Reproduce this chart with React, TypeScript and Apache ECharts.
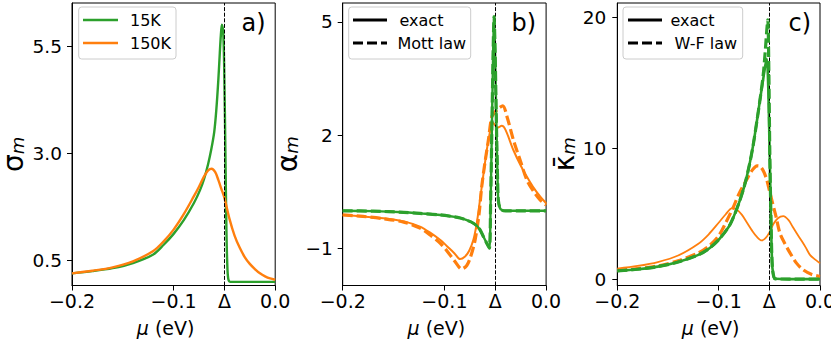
import React, { useEffect, useRef } from 'react';
import * as echarts from 'echarts';

const FONT = 'DejaVu Sans';
const GREEN = '#2ca02c';
const ORANGE = '#ff7f0e';

const DELTA = -0.05;
const xTickValues = [-0.2, -0.1, DELTA, 0.0];
const xTickLabels = ['−0.2', '−0.1', 'Δ', '0.0'];

const yTicksA = [0.5, 3.0, 5.5];
const yLabelsA = ['0.5', '3.0', '5.5'];
const yTicksB = [-1, 2, 5];
const yLabelsB = ['−1', '2', '5'];
const yTicksC = [0, 10, 20];
const yLabelsC = ['0', '10', '20'];

const legendA = ['15K', '150K'];
const legendB = ['exact', 'Mott law'];
const legendC = ['exact', 'W-F law'];
const panelLabels = ['a)', 'b)', 'c)'];

// Panel a: sigma_m
const aMu15 = [-0.2, -0.18, -0.16, -0.14, -0.12, -0.11, -0.1, -0.09, -0.08, -0.074, -0.07, -0.066, -0.063, -0.06, -0.058, -0.056, -0.0545, -0.0535, -0.0525, -0.0512, -0.0502, -0.049, -0.048, -0.047, -0.046, -0.044, -0.03, -0.015, 0];
const aSig15 = [0.2, 0.25, 0.32, 0.44, 0.64, 0.86, 1.12, 1.44, 1.84, 2.14, 2.4, 2.75, 3.08, 3.5, 4.0, 4.7, 5.35, 5.75, 6.0, 5.85, 5.0, 3.0, 1.2, 0.3, 0.05, 0.0, 0.0, 0.0, 0.0];
const aMu150 = [-0.2, -0.18, -0.16, -0.14, -0.12, -0.11, -0.1, -0.09, -0.08, -0.075, -0.07, -0.066, -0.0626, -0.059, -0.056, -0.053, -0.05, -0.045, -0.04, -0.035, -0.03, -0.025, -0.02, -0.015, -0.01, -0.005, 0];
const aSig150 = [0.2, 0.26, 0.34, 0.48, 0.72, 0.94, 1.22, 1.58, 2.0, 2.22, 2.46, 2.6, 2.64, 2.56, 2.38, 2.17, 1.96, 1.47, 1.08, 0.8, 0.58, 0.42, 0.3, 0.2, 0.13, 0.08, 0.05];

// Panel b: alpha_m
const bMu15 = [-0.2, -0.17, -0.14, -0.124, -0.104, -0.09, -0.0846, -0.078, -0.0715, -0.066, -0.0617, -0.058, -0.0558, -0.0545, -0.0534, -0.052, -0.0512, -0.0502, -0.049, -0.0475, -0.047, -0.0455, -0.0436, -0.04, -0.02, 0];
const bAlpha15 = [0, -0.01, -0.04, -0.07, -0.11, -0.16, -0.19, -0.25, -0.33, -0.46, -0.68, -0.88, -0.99, 0.3, 2.05, 4.3, 5.14, 4.3, 2.5, 0.6, 0.29, 0.08, 0.02, 0, 0, 0];
const bAlphaMott15 = [0, -0.01, -0.04, -0.07, -0.11, -0.16, -0.19, -0.25, -0.33, -0.46, -0.68, -0.88, -0.99, 0.3, 2.05, 4.3, 5.14, 4.3, 2.5, 0.6, 0.29, 0.08, 0.02, 0, 0, 0];
const bMu150 = [-0.2, -0.18, -0.16, -0.14, -0.124, -0.114, -0.1043, -0.095, -0.09, -0.0846, -0.08, -0.0755, -0.0715, -0.068, -0.065, -0.0617, -0.0583, -0.0555, -0.0534, -0.051, -0.048, -0.0436, -0.04, -0.0322, -0.025, -0.019, -0.012, -0.0059, 0];
const bAlpha150 = [-0.11, -0.15, -0.2, -0.28, -0.42, -0.58, -0.77, -1.0, -1.13, -1.28, -1.22, -1.05, -0.77, -0.3, 0.29, 0.95, 1.61, 2.05, 2.35, 2.3, 2.2, 2.25, 2.15, 1.61, 1.2, 0.91, 0.6, 0.38, 0.2];
const bMuMott150 = [-0.2, -0.18, -0.16, -0.14, -0.124, -0.114, -0.104, -0.095, -0.09, -0.083, -0.078, -0.074, -0.0698, -0.066, -0.0633, -0.06, -0.0567, -0.0534, -0.05, -0.0465, -0.0426, -0.038, -0.0322, -0.025, -0.019, -0.012, -0.0059, 0];
const bAlphaMott150 = [-0.11, -0.15, -0.21, -0.3, -0.46, -0.64, -0.86, -1.15, -1.33, -1.54, -1.45, -1.2, -0.77, -0.1, 0.64, 1.3, 1.88, 2.49, 2.62, 2.72, 2.78, 2.45, 1.88, 1.3, 0.82, 0.5, 0.29, 0.15];

// Panel c: kappa_m
const cMu15 = [-0.2, -0.18, -0.16, -0.14, -0.12, -0.11, -0.1, -0.09, -0.085, -0.08, -0.075, -0.07, -0.066, -0.062, -0.059, -0.056, -0.054, -0.0525, -0.051, -0.0495, -0.048, -0.047, -0.0455, -0.044, -0.03, 0];
const cKappa15 = [0.62, 0.75, 0.95, 1.3, 1.85, 2.3, 3.0, 4.0, 4.8, 5.8, 7.0, 8.6, 10.2, 12.2, 13.8, 15.3, 16.3, 16.8, 14.5, 9.0, 3.2, 0.9, 0.15, 0.02, 0, 0];
const cMuWF15 = [-0.2, -0.18, -0.16, -0.14, -0.12, -0.11, -0.1, -0.09, -0.085, -0.08, -0.075, -0.07, -0.066, -0.062, -0.059, -0.056, -0.054, -0.0525, -0.0515, -0.0505, -0.0495, -0.048, -0.047, -0.0455, -0.044, -0.03, 0];
const cKappaWF15 = [0.62, 0.75, 0.95, 1.3, 1.85, 2.3, 3.0, 4.0, 4.8, 5.8, 7.0, 8.6, 10.2, 12.2, 13.8, 15.6, 17.4, 19.0, 19.8, 16.0, 9.5, 3.2, 0.9, 0.15, 0.02, 0, 0];
const cMu150 = [-0.2, -0.18, -0.16, -0.14, -0.12, -0.11, -0.1, -0.093, -0.087, -0.082, -0.077, -0.072, -0.067, -0.062, -0.0575, -0.054, -0.05, -0.046, -0.0415, -0.0362, -0.031, -0.027, -0.023, -0.018, -0.014, -0.0099, -0.005, 0];
const cKappa150 = [0.8, 1.0, 1.3, 1.8, 2.7, 3.4, 4.3, 4.95, 5.4, 5.3, 4.9, 4.3, 3.7, 3.2, 2.95, 3.1, 3.55, 4.2, 4.65, 4.8, 4.5, 4.0, 3.5, 2.9, 2.4, 1.85, 1.5, 1.2];
const cMuWF150 = [-0.2, -0.18, -0.16, -0.14, -0.12, -0.11, -0.1, -0.093, -0.0855, -0.08, -0.0723, -0.067, -0.062, -0.059, -0.0555, -0.0526, -0.05, -0.0476, -0.0435, -0.0395, -0.0346, -0.0296, -0.023, -0.0165, -0.008, 0];
const cKappaWF150 = [0.66, 0.8, 1.0, 1.4, 2.0, 2.5, 3.3, 4.3, 5.5, 6.5, 7.6, 8.3, 8.65, 8.6, 8.2, 7.6, 6.8, 6.05, 4.8, 3.5, 2.7, 2.0, 1.2, 0.7, 0.35, 0.2];

const zip = (xs: number[], ys: number[]) => xs.map((x, i) => [x, ys[i]]);
const lookup = (vals: number[], labels: string[]) => (v: number) => {
  const i = vals.findIndex((t) => Math.abs(t - v) < 1e-9);
  return i >= 0 ? labels[i] : '';
};

const GRID_LEFTS = [72, 342.7, 617.3];
const GRID_WIDTHS = [203.2, 203.4, 202.7];
const TOP = 3;
const HEIGHT = 282.5;

export default function App() {
  const ref = useRef<HTMLDivElement>(null);
  useEffect(() => {
    if (!ref.current) return;
    const chart = echarts.init(ref.current, undefined, { renderer: 'svg' });

    const grids = GRID_LEFTS.map((l, i) => ({
      left: l, top: TOP, width: GRID_WIDTHS[i], height: HEIGHT,
      show: true, borderColor: '#000', borderWidth: 1, backgroundColor: 'transparent',
      containLabel: false, outerBoundsMode: 'none',
    }));

    const xAxes = [0, 1, 2].map((i) => ({
      gridIndex: i, type: 'value', min: -0.2, max: 0,
      axisLine: { show: true, onZero: false, lineStyle: { color: '#000', width: 1 } },
      axisTick: { show: true, length: 5, inside: false, customValues: xTickValues, lineStyle: { color: '#000', width: 1 } },
      axisLabel: { customValues: xTickValues, formatter: lookup(xTickValues, xTickLabels), fontSize: 19, color: '#000', fontFamily: FONT, margin: 6 },
      splitLine: { show: false },
      name: '{i|μ} (eV)', nameLocation: 'middle', nameGap: 33,
      nameTextStyle: {
        fontSize: 19, color: '#000', fontFamily: FONT, padding: [0, 16, 0, 0],
        rich: { i: { fontSize: 19, fontStyle: 'italic', fontFamily: FONT, color: '#000' } },
      },
    }));

    const yConf = [
      { min: -0.084, max: 6.505, ticks: yTicksA, labels: yLabelsA, name: '{s|σ}{m|m}', gap: 46, margin: 10 },
      { min: -1.979, max: 5.503, ticks: yTicksB, labels: yLabelsB, name: '{s|α}{m|m}', gap: 34, margin: 10 },
      { min: -0.49, max: 21.08, ticks: yTicksC, labels: yLabelsC, name: '{s|κ̄}{m|m}', gap: 36, margin: 11 },
    ];
    const yAxes = yConf.map((c, i) => ({
      gridIndex: i, type: 'value', min: c.min, max: c.max,
      axisLine: { show: true, onZero: false, lineStyle: { color: '#000', width: 1 } },
      axisTick: { show: true, length: 5, inside: false, customValues: c.ticks, lineStyle: { color: '#000', width: 1 } },
      axisLabel: { customValues: c.ticks, formatter: lookup(c.ticks, c.labels), fontSize: 18.5, color: '#000', fontFamily: FONT, margin: c.margin },
      splitLine: { show: false },
      name: c.name, nameLocation: 'middle', nameGap: c.gap,
      nameTextStyle: {
        color: '#000', fontFamily: FONT, fontSize: 26, padding: [0, 20, 0, 0],
        rich: {
          s: { fontSize: 28, fontFamily: FONT, color: '#000', lineHeight: 26 },
          m: { fontSize: 18, fontStyle: 'italic', fontFamily: FONT, color: '#000', lineHeight: 18, verticalAlign: 'bottom' },
        },
      },
    }));

    const deltaLine = {
      silent: true, symbol: ['none', 'none'], label: { show: false },
      lineStyle: { color: '#000', type: [4, 1.6], width: 1 },
      emphasis: { disabled: true },
      data: [{ xAxis: DELTA }],
    };

    const line = (idx: number, name: string, xs: number[], ys: number[], color: string, width: number, dashed: boolean, z: number, extra: any = {}) => ({
      type: 'line', name, xAxisIndex: idx, yAxisIndex: idx, data: zip(xs, ys),
      showSymbol: false, symbol: 'none', smooth: 0.3,
      lineStyle: { color, width, type: dashed ? [10, 4] : 'solid', cap: 'butt', join: 'round' },
      itemStyle: { color }, z, silent: true, ...extra,
    });

    const series = [
      line(0, '15K', aMu15, aSig15, GREEN, 2.4, false, 2, { markLine: deltaLine }),
      line(0, '150K', aMu150, aSig150, ORANGE, 2.4, false, 3),
      line(1, 'exact 150K', bMu150, bAlpha150, ORANGE, 2, false, 2, { markLine: deltaLine }),
      line(1, 'Mott law 150K', bMuMott150, bAlphaMott150, ORANGE, 3.2, true, 3),
      line(1, 'exact 15K', bMu15, bAlpha15, GREEN, 2.4, false, 4),
      line(1, 'Mott law 15K', bMu15, bAlphaMott15, GREEN, 3.2, true, 5),
      line(2, 'exact 150K', cMu150, cKappa150, ORANGE, 1.8, false, 2, { markLine: deltaLine }),
      line(2, 'W-F law 150K', cMuWF150, cKappaWF150, ORANGE, 3.2, true, 3),
      line(2, 'exact 15K', cMu15, cKappa15, GREEN, 2.6, false, 4),
      line(2, 'W-F law 15K', cMuWF15, cKappaWF15, GREEN, 3.2, true, 5),
    ];

    const legendBox = (x: number, w: number) => ({
      type: 'rect', shape: { x, y: 7, width: w, height: 52, r: 3 },
      style: { fill: 'rgba(255,255,255,0.8)', stroke: '#cccccc', lineWidth: 1 }, z: 10,
    });
    const legendLine = (x1: number, x2: number, y: number, color: string, width: number, dash?: number[]) => ({
      type: 'line', shape: { x1, y1: y, x2, y2: y },
      style: { stroke: color, lineWidth: width, lineDash: dash, lineCap: 'butt' }, z: 11,
    });
    const txt = (text: string, x: number, y: number, size: number) => ({
      type: 'text', x, y, z: 11,
      style: { text, fill: '#000', font: `${size}px "${FONT}"`, textAlign: 'left', textVerticalAlign: 'middle', verticalAlign: 'middle' },
    });

    const graphic = [
      legendBox(78.7, 97.3),
      legendLine(83, 118, 20, GREEN, 2.6),
      legendLine(83, 118, 43, ORANGE, 2.6),
      txt(legendA[0], 130, 20.5, 16),
      txt(legendA[1], 130, 43.5, 16),
      legendBox(348.7, 122),
      legendLine(353, 387, 20, '#000', 3),
      legendLine(353, 387, 43, '#000', 3, [10, 4]),
      txt(legendB[0], 399.5, 20.5, 16),
      txt(legendB[1], 397.5, 43.5, 16),
      legendBox(623, 119.7),
      legendLine(628, 662, 20, '#000', 3),
      legendLine(628, 662, 43, '#000', 3, [10, 4]),
      txt(legendC[0], 670.5, 20.5, 16),
      txt(legendC[1], 674.5, 43.5, 16),
      txt(panelLabels[0], 241.5, 23, 24),
      txt(panelLabels[1], 511.5, 23, 24),
      txt(panelLabels[2], 788.5, 23, 24),
    ];

    chart.setOption({
      animation: false,
      backgroundColor: '#fff',
      textStyle: { fontFamily: FONT },
      grid: grids,
      xAxis: xAxes,
      yAxis: yAxes,
      series,
      graphic,
    });
    return () => chart.dispose();
  }, []);
  return <div ref={ref} style={{ position: 'absolute', left: 0, top: 0, width: 831, height: 342 }} />;
}
